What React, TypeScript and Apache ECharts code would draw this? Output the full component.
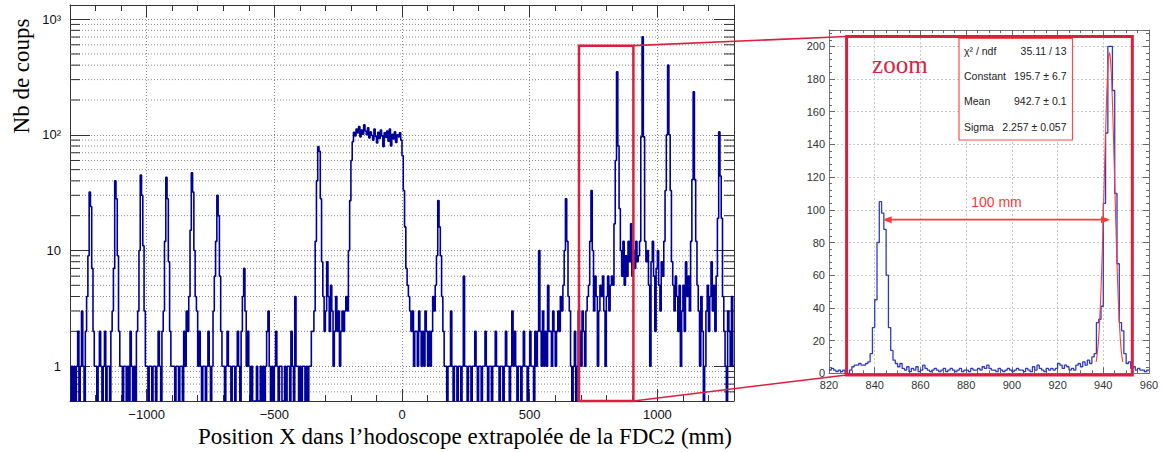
import React, { useEffect, useRef } from "react";
import * as echarts from "echarts";

// ---------------- Left histogram: 5 mm bins from -1300 to +1300 mm ----------------
const LEFT_X_MIN = -1300;
const LEFT_X_MAX = 1300;
const LEFT_BIN = 5;
const LEFT_Y_MIN = 0.5;
const LEFT_Y_MAX = 1325;

const countsM1300 = [0,1,0,1,0,1,2,0,1,3, 1,0,2,4,9,32,24,7,2,1, 1,0,1,2,1,0,1,2,0,1, 1,0,2,3,7,40,28,9,2,1];
const countsM1100 = [1,0,1,1,0,1,0,2,1,0, 1,0,2,3,10,45,30,11,3,1, 1,0,1,1,0,1,1,0,1,2, 1,0,2,3,12,43,28,8,2,1];
const countsM900 = [1,1,0,1,1,0,1,1,0,2, 1,3,2,4,15,47,32,10,4,3, 1,2,1,0,1,1,0,1,2,1, 0,1,3,6,12,30,20,6,2,1];
const countsM700 = [1,0,1,2,1,1,0,1,1,0, 1,2,1,0,2,4,7,3,1,2, 1,0,1,0,0,0,1,0,0,1, 0,1,0,1,2,3,1,0,1,0];
const countsM500 = [1,2,1,0,1,1,0,0,1,0, 1,1,0,2,1,0,4,1,1,0, 1,0,1,1,0,1,0,1,1,2, 2,3,12,40,79,72,28,8,4,2];
const countsM300 = [3,8,4,2,5,3,1,2,4,2, 3,1,2,3,2,3,4,3,10,27, 60,87,105,98,112,104,118,96,110,101, 122,108,100,115,94,106,99,90,112,97];
const countsM100 = [85,105,93,110,98,79,104,95,108,88, 112,80,101,92,106,86,100,96,104,90, 66,33,16,7,5,4,3,2,3,1, 2,2,1,3,2,1,2,1,3,2];
const countsP100 = [1,2,1,2,4,3,5,9,27,16, 9,4,2,1,1,0,1,1,3,1, 0,1,1,0,1,1,0,1,6,1, 1,0,1,1,0,1,1,2,1,0];
const countsP300 = [1,1,0,1,1,2,1,0,1,1, 0,1,1,2,1,1,0,1,1,0, 1,2,1,1,0,1,3,1,2,1, 0,1,1,0,1,2,1,1,0,1];
const countsP500 = [2,1,1,0,2,1,2,10,2,1, 3,1,2,1,5,2,2,1,3,2, 1,2,3,2,4,3,5,10,28,12, 4,3,1,0,1,2,0,1,3,2];
const countsP700 = [1,3,2,1,3,4,5,12,33,10, 3,6,4,1,3,5,4,6,3,1, 4,6,3,5,6,5,17,60,351,80, 23,10,6,12,5,9,6,12,8,17];
const countsP900 = [6,10,7,12,8,9,12,96,703,96, 12,8,10,5,1,8,12,6,2,7, 10,5,3,8,6,12,33,100,400,100, 33,8,5,3,6,4,2,5,1,3];
const countsP1100 = [5,2,8,4,6,3,12,41,236,41, 12,5,3,1,4,2,0,1,3,5, 2,4,8,3,5,2,6,19,106,44, 19,4,2,1,0,3,2,1,4,1];

const leftCounts = [
  ...countsM1300, ...countsM1100, ...countsM900, ...countsM700, ...countsM500,
  ...countsM300, ...countsM100, ...countsP100, ...countsP300, ...countsP500,
  ...countsP700, ...countsP900, ...countsP1100,
];

// minor log ticks / grid lines of the left plot
const logMinorTicks = [0.6,0.7,0.8,0.9, 2,3,4,5,6,7,8,9, 20,30,40,50,60,70,80,90, 200,300,400,500,600,700,800,900];

// ---------------- Zoom histogram: 1 mm bins from 820 to 960 mm ----------------
const ZOOM_X_MIN = 820;
const ZOOM_X_MAX = 960;
const ZOOM_BIN = 1;
const ZOOM_Y_MAX = 210;

const zoom820 = [2,3,2,1,2,1,2,0,0,2, 4,5,5,6,5,5,6,7,12,28, 45,80,105,98,88,60,28,14,8,6, 4,6,3,2,4,1,3,2,4,1];
const zoom860 = [2,5,3,2,1,2,3,2,1,2, 3,1,2,3,2,1,2,3,1,2, 2,1,3,2,2,3,2,4,3,5, 3,2,2,1,3,2,1,2,3,2];
const zoom900 = [1,2,3,2,2,1,3,2,1,4, 2,5,3,2,1,3,2,3,2,3, 6,5,3,5,4,2,3,2,5,6, 4,7,5,8,6,10,12,31,33,41];
const zoom940 = [104,147,200,200,173,110,67,31,26,12, 6,7,3,4,2,3,2,2,1,2];
const zoomCounts = [...zoom820, ...zoom860, ...zoom900, ...zoom940];

// Gaussian fit curve, as drawn (red)
const fitX = [936.8,937,937.5,938,938.5,939,939.5,940,940.5,941,941.5,942,942.3,942.7,943,943.5,944,944.5,945,945.5,946,946.5,947,947.5,948,948.5];
const fitY = [7,8,14,22,35,51,72,96,122,147,170,187,193,196,194,184,166,142,117,91,67,47,32,20,12,7];

// stats box
const statsLabels = ["\u03c7\u00b2 / ndf", "Constant", "Mean", "Sigma"];
const statsValues = ["35.11 / 13", "195.7 \u00b1 6.7", "942.7 \u00b1 0.1", "2.257 \u00b1 0.057"];

// annotations (data units)
const zoomBoxX = [693, 906];
const zoomBoxTop = 590;
const detailBoxX = [827.7, 952.7];
const detailBoxY = [-1, 206];
const arrowX = [843.5, 943];
const arrowY = 94;
const arrowLabel = "100 mm";
const zoomLabel = "zoom";
const zoomLabelPos = [851, 189];

const xTitle = "Position X dans l\u2019hodoscope extrapol\u00e9e de la FDC2 (mm)";
const yTitle = "Nb de coups";

const RED = "#dc1f3f";
const FIT_RED = "#ff3838";
const SANS = '"Liberation Sans", Arial, sans-serif';
const SERIF = '"Liberation Serif", "Times New Roman", serif';

function toSteps(counts: number[], x0: number, w: number, floor: number) {
  const pts: number[][] = counts.map((c, i) => [x0 + i * w, Math.max(c, floor)]);
  pts.push([x0 + counts.length * w, Math.max(counts[counts.length - 1], floor)]);
  return pts;
}

function fmtLeftX(v: number) {
  if (Math.abs(v % 500) > 1e-6) return "";
  return v < 0 ? "\u2212" + Math.abs(v) : String(v);
}

function fmtLog(v: number) {
  const l = Math.log10(v);
  const r = Math.round(l);
  if (Math.abs(l - r) > 1e-6) return "";
  if (r === 0) return "1";
  if (r === 1) return "10";
  if (r === 2) return "10\u00b2";
  if (r === 3) return "10\u00b3";
  return "";
}

export default function App() {
  const ref = useRef<HTMLDivElement>(null);

  useEffect(() => {
    const el = ref.current;
    if (!el) return;
    const chart = echarts.init(el, null, { renderer: "svg" });

    const darkTick = { color: "#333", width: 1 };
    const lightTick = { color: "#666", width: 1 };
    const frameDark = { show: true, onZero: false, lineStyle: { color: "#333", width: 1 } };
    const frameLight = { show: true, onZero: false, lineStyle: { color: "#777", width: 1 } };

    const option: any = {
      animation: false,
      backgroundColor: "#fff",
      grid: [
        { left: 70, top: 5, width: 664, height: 396, containLabel: false, outerBoundsMode: "none" },
        { left: 829, top: 30, width: 320, height: 343.3, containLabel: false, outerBoundsMode: "none" },
      ],
      xAxis: [
        {
          gridIndex: 0, type: "value", position: "bottom", min: LEFT_X_MIN, max: LEFT_X_MAX,
          minInterval: 500, maxInterval: 500,
          axisLine: frameDark,
          axisTick: { show: true, inside: true, length: 12, lineStyle: darkTick },
          minorTick: { show: true, splitNumber: 5, length: 6, lineStyle: darkTick },
          axisLabel: { show: true, formatter: fmtLeftX, margin: 7, fontSize: 13, fontFamily: SANS, color: "#111" },
          splitLine: { show: true, lineStyle: { color: "#8a8a8a", type: [1, 2], width: 1 } },
        },
        {
          gridIndex: 0, type: "value", position: "top", min: LEFT_X_MIN, max: LEFT_X_MAX,
          minInterval: 500, maxInterval: 500,
          axisLine: frameDark,
          axisTick: { show: true, inside: true, length: 12, lineStyle: darkTick },
          minorTick: { show: true, splitNumber: 5, length: 6, lineStyle: darkTick },
          axisLabel: { show: false },
          splitLine: { show: false },
        },
        {
          gridIndex: 1, type: "value", position: "bottom", min: ZOOM_X_MIN, max: ZOOM_X_MAX, interval: 20,
          axisLine: frameLight,
          axisTick: { show: true, inside: true, length: 6, lineStyle: lightTick },
          minorTick: { show: true, splitNumber: 4, length: 3, lineStyle: lightTick },
          axisLabel: { show: true, margin: 6, fontSize: 11, fontFamily: SANS, color: "#333" },
          splitLine: { show: true, lineStyle: { color: "#c8c8c8", type: [2, 2], width: 1 } },
        },
        {
          gridIndex: 1, type: "value", position: "top", min: ZOOM_X_MIN, max: ZOOM_X_MAX, interval: 20,
          axisLine: frameLight,
          axisTick: { show: true, inside: true, length: 6, lineStyle: lightTick },
          minorTick: { show: true, splitNumber: 4, length: 3, lineStyle: lightTick },
          axisLabel: { show: false },
          splitLine: { show: false },
        },
      ],
      yAxis: [
        {
          gridIndex: 0, type: "log", logBase: 10, position: "left", min: LEFT_Y_MIN, max: LEFT_Y_MAX,
          axisLine: frameDark,
          axisTick: { show: true, inside: true, length: 20, lineStyle: darkTick },
          axisLabel: { show: true, formatter: fmtLog, margin: 9, fontSize: 13, fontFamily: SANS, color: "#111" },
          splitLine: { show: true, lineStyle: { color: "#8a8a8a", type: [1, 2], width: 1 } },
        },
        {
          gridIndex: 0, type: "log", logBase: 10, position: "right", min: LEFT_Y_MIN, max: LEFT_Y_MAX,
          axisLine: frameDark,
          axisTick: { show: true, inside: true, length: 20, lineStyle: darkTick },
          axisLabel: { show: false },
          splitLine: { show: false },
        },
        {
          gridIndex: 1, type: "value", position: "left", min: 0, max: ZOOM_Y_MAX, interval: 20,
          axisLine: frameLight,
          axisTick: { show: true, inside: true, length: 6, lineStyle: lightTick },
          minorTick: { show: true, splitNumber: 5, length: 3, lineStyle: lightTick },
          axisLabel: {
            show: true, margin: 4, fontSize: 11, fontFamily: SANS, color: "#333",
            formatter: (v: number) => (v > 200 ? "" : String(v)),
          },
          splitLine: { show: true, lineStyle: { color: "#c8c8c8", type: [2, 2], width: 1 } },
        },
        {
          gridIndex: 1, type: "value", position: "right", min: 0, max: ZOOM_Y_MAX, interval: 20,
          axisLine: frameLight,
          axisTick: { show: true, inside: true, length: 6, lineStyle: lightTick },
          minorTick: { show: true, splitNumber: 5, length: 3, lineStyle: lightTick },
          axisLabel: { show: false },
          splitLine: { show: false },
        },
      ],
      series: [
        {
          type: "line", name: "hodoscope", xAxisIndex: 0, yAxisIndex: 0,
          data: toSteps(leftCounts, LEFT_X_MIN, LEFT_BIN, LEFT_Y_MIN),
          step: "end", symbol: "none", showSymbol: false, clip: true, z: 3,
          lineStyle: { color: "#000099", width: 1.6 },
          emphasis: { disabled: true },
        },
        {
          type: "custom", name: "logMinor", xAxisIndex: 0, yAxisIndex: 0, z: 1, silent: true,
          data: logMinorTicks.map((v) => [LEFT_X_MIN, v]),
          encode: { x: 0, y: 1 },
          renderItem: (params: any, api: any) => {
            const cs = params.coordSys;
            const y = api.coord([LEFT_X_MIN, api.value(1)])[1];
            return {
              type: "group",
              children: [
                { type: "line", shape: { x1: cs.x, y1: y, x2: cs.x + cs.width, y2: y },
                  style: { stroke: "#8a8a8a", lineWidth: 1, lineDash: [1, 2] } },
                { type: "line", shape: { x1: cs.x, y1: y, x2: cs.x + 10, y2: y },
                  style: { stroke: "#333", lineWidth: 1 } },
                { type: "line", shape: { x1: cs.x + cs.width - 10, y1: y, x2: cs.x + cs.width, y2: y },
                  style: { stroke: "#333", lineWidth: 1 } },
              ],
            };
          },
        },
        {
          type: "line", name: "zoom", xAxisIndex: 2, yAxisIndex: 2,
          data: toSteps(zoomCounts, ZOOM_X_MIN, ZOOM_BIN, 0),
          step: "end", symbol: "none", showSymbol: false, clip: true, z: 3,
          lineStyle: { color: "#2c3cc0", width: 1.3 },
          emphasis: { disabled: true },
        },
        {
          type: "line", name: "fit", xAxisIndex: 2, yAxisIndex: 2,
          data: fitX.map((x, i) => [x, fitY[i]]),
          smooth: 0.3, symbol: "none", showSymbol: false, z: 4,
          lineStyle: { color: FIT_RED, width: 1.1 },
          emphasis: { disabled: true },
        },
      ],
    };

    chart.setOption(option);

    const L = (x: number, y: number) => chart.convertToPixel({ seriesIndex: 0 }, [x, y]) as number[];
    const R = (x: number, y: number) => chart.convertToPixel({ seriesIndex: 2 }, [x, y]) as number[];

    const [bx0, by0] = L(zoomBoxX[0], zoomBoxTop);
    const [bx1, by1] = L(zoomBoxX[1], LEFT_Y_MIN);
    const [dx0, dy0] = R(detailBoxX[0], detailBoxY[1]);
    const [dx1, dy1] = R(detailBoxX[1], detailBoxY[0]);
    const [ax0, ay] = R(arrowX[0], arrowY);
    const [ax1] = R(arrowX[1], arrowY);
    const [zx, zy] = R(zoomLabelPos[0], zoomLabelPos[1]);

    const txt = (x: number, y: number, text: string, font: string, fill: string, align: string, vAlign: string, extra: any = {}) => ({
      type: "text", z: 100, silent: true, x, y, ...extra,
      style: { text, font, fill, align, verticalAlign: vAlign, textAlign: align, textVerticalAlign: vAlign },
    });

    const statsBox = { x: 959, y: 38.5, w: 113.5, h: 101.5 };
    const statsRowsY = [50.7, 76, 100.7, 126.5];

    const graphic: any[] = [
      { type: "rect", z: 100, silent: true, shape: { x: bx0, y: by0, width: bx1 - bx0, height: by1 - by0 },
        style: { fill: "none", stroke: RED, lineWidth: 2.5 } },
      { type: "rect", z: 100, silent: true, shape: { x: dx0, y: dy0, width: dx1 - dx0, height: dy1 - dy0 },
        style: { fill: "none", stroke: RED, lineWidth: 3 } },
      { type: "line", z: 100, silent: true, shape: { x1: bx1, y1: by0, x2: dx0, y2: dy0 },
        style: { stroke: RED, lineWidth: 1.6 } },
      { type: "line", z: 100, silent: true, shape: { x1: bx1, y1: by1, x2: dx0, y2: dy1 },
        style: { stroke: RED, lineWidth: 1.6 } },
      txt(zx, zy, zoomLabel, `25px ${SERIF}`, RED, "center", "middle"),
      // 100 mm arrow
      { type: "line", z: 100, silent: true, shape: { x1: ax0 + 6, y1: ay, x2: ax1 - 6, y2: ay },
        style: { stroke: FIT_RED, lineWidth: 1.6 } },
      { type: "polygon", z: 100, silent: true, shape: { points: [[ax0, ay], [ax0 + 9, ay - 3.5], [ax0 + 9, ay + 3.5]] },
        style: { fill: FIT_RED } },
      { type: "polygon", z: 100, silent: true, shape: { points: [[ax1, ay], [ax1 - 9, ay - 3.5], [ax1 - 9, ay + 3.5]] },
        style: { fill: FIT_RED } },
      txt((ax0 + ax1) / 2, ay - 18, arrowLabel, `14px ${SANS}`, FIT_RED, "center", "middle"),
      // stats box
      { type: "rect", z: 100, silent: true, shape: { x: statsBox.x, y: statsBox.y, width: statsBox.w, height: statsBox.h },
        style: { fill: "#fff", stroke: "#ff4a4a", lineWidth: 1.2 } },
      ...statsLabels.map((s, i) => txt(statsBox.x + 5, statsRowsY[i], s, `10.5px "Liberation Sans Narrow", ${SANS}`, "#222", "left", "middle")),
      ...statsValues.map((s, i) => txt(statsBox.x + statsBox.w - 6, statsRowsY[i], s, `10.5px "Liberation Sans Narrow", ${SANS}`, "#222", "right", "middle")),
      // axis titles
      txt(732, 436, xTitle, `23px ${SERIF}`, "#000", "right", "middle"),
      txt(21, 76, yTitle, `23px ${SERIF}`, "#000", "center", "middle", { rotation: Math.PI / 2 }),
    ];

    chart.setOption({ graphic });

    return () => chart.dispose();
  }, []);

  return (
    <div
      ref={ref}
      style={{ position: "fixed", left: 0, top: 0, width: 1162, height: 452, background: "#fff" }}
    />
  );
}
